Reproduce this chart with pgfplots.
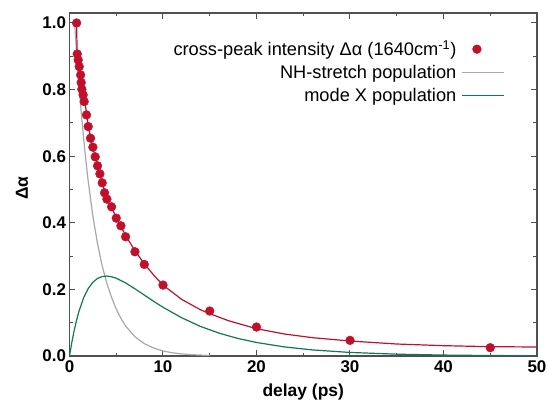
\documentclass[border=0pt]{standalone}
\usepackage{fontspec}
\setmainfont{Liberation Sans}
\usepackage{pgfplots}
\pgfplotsset{compat=1.18}
\definecolor{cpred}{RGB}{192,16,44}
\definecolor{cpgreen}{RGB}{16,120,82}
\definecolor{cpgray}{RGB}{168,168,168}
\definecolor{axgray}{RGB}{80,80,80}
\pgfplotsset{
  longline/.style={legend image code/.code={\draw[##1] (0bp,0bp) -- (42bp,0bp);}},
  dotleg/.style={legend image code/.code={\draw[##1, mark repeat=2, mark phase=2] plot coordinates {(0bp,0bp) (15bp,0bp) (42bp,0bp)};}},
}
\begin{document}
\begin{tikzpicture}
\begin{axis}[
  scale only axis, width=467.5bp, height=343bp,
  xmin=0, xmax=50, ymin=0, ymax=1.03,
  xtick={0,10,20,30,40,50}, ytick={0,0.2,0.4,0.6,0.8,1.0},
  minor x tick num=1, minor y tick num=1,
  tick align=inside,
  major tick length=6bp, minor tick length=3.5bp,
  axis line style={axgray, line width=1.3bp},
  every tick/.style={axgray, line width=1bp},
  /pgf/number format/assume math mode=true,
  tick label style={font=\fontsize{17}{19}\selectfont\bfseries},
  x tick label style={yshift=-1bp},
  y tick label style={/pgf/number format/.cd, fixed, fixed zerofill, precision=1, assume math mode=true},
  xlabel={delay (ps)}, ylabel={Δα},
  label style={font=\fontsize{17.5}{20}\selectfont\bfseries},
  xlabel style={at={(axis description cs:0.5,-0.105)}, anchor=center},
  ylabel style={at={(axis description cs:-0.1016,0.49)}, anchor=center},
  legend style={draw=none, fill=none, at={(axis description cs:0.931,0.925)}, anchor=north east,
    font=\fontsize{18.3}{21}\selectfont, row sep=4bp, inner sep=0pt,
    nodes={inner xsep=5bp}},
  legend cell align=right,
  legend plot pos=right,
]
\coordinate (SW) at (rel axis cs:0,0);
% NH-stretch population
\addplot[cpgray, line width=1.2bp, forget plot] coordinates {
(0.55,1.0) (0.8,0.895) (1.0,0.819) (1.25,0.733) (1.5,0.656) (1.75,0.587) (2.0,0.525)
(2.5,0.420) (3.0,0.337) (3.5,0.270) (4.0,0.218) (4.5,0.176) (5.0,0.141) (5.5,0.113)
(6.0,0.090) (7.0,0.058) (8.0,0.037) (9.0,0.024) (10,0.015) (11,0.0096) (12,0.0062)
(13,0.004) (15,0.0016)};
% mode X population
\addplot[cpgreen, line width=1.2bp, forget plot] coordinates {
(0,0) (0.25,0.041) (0.5,0.0765) (0.75,0.107) (1.0,0.133) (1.5,0.174) (2.0,0.2025)
(2.5,0.2215) (3.0,0.233) (3.5,0.2387) (4.0,0.240) (4.5,0.238) (5.0,0.2334) (6.0,0.2194)
(7.0,0.2018) (8.0,0.183) (9.0,0.1642) (10,0.1464) (12,0.1148) (14,0.0889) (16,0.0686)
(18,0.0527) (20,0.0406) (23,0.0272) (26,0.0182) (30,0.0107) (35,0.0055) (40,0.0028)
(45,0.0014) (50,0.0007)};
% fit of cross-peak
\addplot[cpred, line width=1.2bp, forget plot] coordinates {
(0.75,1.0) (0.82,0.912) (0.95,0.886) (1.05,0.867) (1.2,0.842) (1.3,0.823) (1.45,0.797)
(1.6,0.771) (1.8,0.733) (2.0,0.692) (2.25,0.657) (2.5,0.626) (2.75,0.598) (3.0,0.571)
(3.25,0.545) (3.5,0.519) (3.75,0.494) (4.0,0.471) (4.5,0.445) (5.0,0.416) (5.5,0.389)
(6.0,0.362) (7.0,0.316) (8.0,0.277) (9.0,0.243) (10,0.213) (12,0.170) (14,0.139)
(15,0.127) (17,0.106) (20,0.082) (23,0.066) (26,0.055) (30,0.045) (35,0.036) (40,0.031)
(45,0.028) (50,0.027)};
% data points
\addplot[only marks, mark=*, mark size=4.4bp, mark options={fill=cpred, draw=cpred}, dotleg]
coordinates {
(0.76,1.0) (0.83,0.907) (0.93,0.889) (1.04,0.869) (1.19,0.844) (1.25,0.821) (1.32,0.801)
(1.46,0.784) (1.57,0.764) (1.82,0.724) (2.0,0.689) (2.25,0.654) (2.5,0.627) (2.75,0.598)
(3.0,0.571) (3.25,0.547) (3.5,0.520) (3.75,0.490) (4.0,0.471) (4.5,0.448) (5.0,0.414)
(5.5,0.391) (6.0,0.358) (7.0,0.313) (8.0,0.275) (10,0.213) (15,0.135) (20,0.087)
(30,0.047) (45,0.025)};
\addlegendentry{cross-peak intensity Δα (1640cm\textsuperscript{-1})}
\addlegendimage{cpgray, line width=1.2bp, longline}
\addlegendentry{NH-stretch population}
\addlegendimage{cpgreen, line width=1.2bp, longline}
\addlegendentry{mode X population}
\end{axis}
\pgfresetboundingbox
\path[use as bounding box] ([shift={(-69.5bp,-49bp)}]SW) rectangle ++(548bp,405bp);
\end{tikzpicture}
\end{document}
